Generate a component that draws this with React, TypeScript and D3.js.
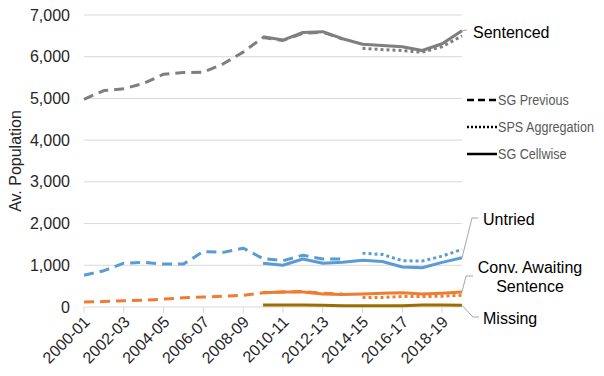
import React from "react";
import * as d3 from "d3";

const categories = [
  "2000-01","2001-02","2002-03","2003-04","2004-05","2005-06","2006-07","2007-08","2008-09","2009-10",
  "2010-11","2011-12","2012-13","2013-14","2014-15","2015-16","2016-17","2017-18","2018-19","2019-20",
];
const yTicks = [0, 1000, 2000, 3000, 4000, 5000, 6000, 7000];
const N = null;

const sentencedPrev = [4980,5190,5230,5360,5580,5620,5630,5830,6110,6460,6390,6560,6590,6420,N,N,N,N,N,N];
const sentencedSPS = [N,N,N,N,N,N,N,N,N,N,N,N,N,N,6200,6170,6150,6110,6240,6500];
const sentencedCell = [N,N,N,N,N,N,N,N,N,6480,6400,6580,6600,6430,6300,6270,6240,6150,6310,6620];

const untriedPrev = [760,870,1050,1070,1030,1030,1330,1310,1410,1160,1110,1240,1150,1150,N,N,N,N,N,N];
const untriedSPS = [N,N,N,N,N,N,N,N,N,N,N,N,N,N,1290,1260,1110,1100,1220,1380];
const untriedCell = [N,N,N,N,N,N,N,N,N,1050,1000,1150,1050,1070,1120,1090,960,940,1070,1180];

const convPrev = [120,130,150,160,190,220,240,260,280,340,360,370,330,310,N,N,N,N,N,N];
const convSPS = [N,N,N,N,N,N,N,N,N,N,N,N,N,N,230,230,250,250,260,280];
const convCell = [N,N,N,N,N,N,N,N,N,340,360,360,310,300,310,330,340,310,330,360];

const missingCell = [N,N,N,N,N,N,N,N,N,50,50,50,40,30,30,30,30,50,50,40];

const legendLabels = ["SG Previous", "SPS Aggregation", "SG Cellwise"];

const W = 604, H = 376;
const x = d3.scaleLinear().domain([0, categories.length - 1]).range([84, 462]);
const y = d3.scaleLinear().domain([0, 7000]).range([307, 15]);

const GRAY = "#7f7f7f", BLUE = "#5b9bd5", ORANGE = "#ed7d31", GOLD = "#9c6e00";
const DASH = "10,6", DOT = "3,3";

type S = { data: (number | null)[]; color: string; dash?: string };
const series: S[] = [
  { data: sentencedPrev, color: GRAY, dash: DASH },
  { data: untriedPrev, color: BLUE, dash: DASH },
  { data: convPrev, color: ORANGE, dash: DASH },
  { data: sentencedSPS, color: GRAY, dash: DOT },
  { data: untriedSPS, color: BLUE, dash: DOT },
  { data: convSPS, color: ORANGE, dash: DOT },
  { data: sentencedCell, color: GRAY },
  { data: untriedCell, color: BLUE },
  { data: convCell, color: ORANGE },
  { data: missingCell, color: GOLD },
];

const line = d3
  .line<number | null>()
  .defined((d) => d !== null)
  .x((_, i) => x(i))
  .y((d) => y(d as number));

const FONT = "'Liberation Sans', Arial, sans-serif";

const last = (a: (number | null)[]) => a[a.length - 1] as number;

export default function App() {
  const xe = x(categories.length - 1);
  const legendDash = ["7,4", "2,2", undefined];
  return (
    <div style={{ position: "fixed", left: 0, top: 0 }}>
      <svg width={W} height={H} style={{ display: "block", background: "#fff" }}>
        {yTicks.slice(1).map((t) => (
          <line key={t} x1={84} x2={462} y1={y(t)} y2={y(t)} stroke="#d9d9d9" strokeWidth={1} />
        ))}
        <line x1={84} x2={462} y1={y(0)} y2={y(0)} stroke="#d9d9d9" strokeWidth={1} />
        {categories.map((c, i) =>
          i % 2 === 0 ? (
            <line key={c} x1={x(i)} x2={x(i)} y1={y(0)} y2={y(0) + 6} stroke="#d9d9d9" />
          ) : null
        )}
        {yTicks.map((t) => (
          <text key={t} x={70} y={y(t)} textAnchor="end" dominantBaseline="central" fontSize={16} fontFamily={FONT} fill="#262626">
            {d3.format(",")(t)}
          </text>
        ))}
        <text transform={`translate(15,161) rotate(-90)`} textAnchor="middle" dominantBaseline="central" fontSize={16} fontFamily={FONT} fill="#262626">
          Av. Population
        </text>
        {categories.map((c, i) =>
          i % 2 === 0 ? (
            <text key={c} transform={`translate(${x(i) + 3},${y(0) + 12}) rotate(-45)`} textAnchor="end" dominantBaseline="central" fontSize={16} fontFamily={FONT} fill="#262626">
              {c}
            </text>
          ) : null
        )}
        {series.map((s, k) => (
          <path key={k} d={line(s.data) || ""} fill="none" stroke={s.color} strokeWidth={3} strokeDasharray={s.dash} strokeLinejoin="round" />
        ))}
        <g stroke="#a6a6a6" strokeWidth={1} fill="none">
          <polyline points={`${xe},${y(last(sentencedCell))} ${xe + 5},${y(last(sentencedCell)) - 1}`} />
          <polyline points={`${xe},${y(last(untriedCell))} ${xe + 10},218 ${xe + 16},218`} />
          <polyline points={`${xe},${y(last(convCell))} ${xe + 4},276 ${xe + 11},276`} />
          <polyline points={`${xe},${y(last(missingCell))} ${xe + 11},317 ${xe + 17},317`} />
        </g>
        <g fontSize={16} fontFamily={FONT} fill="#000">
          <text x={473} y={32} dominantBaseline="central">Sentenced</text>
          <text x={483} y={219} dominantBaseline="central">Untried</text>
          <text x={530} y={267} textAnchor="middle" dominantBaseline="central">Conv. Awaiting</text>
          <text x={530} y={286} textAnchor="middle" dominantBaseline="central">Sentence</text>
          <text x={483} y={318} dominantBaseline="central">Missing</text>
        </g>
        <g>
          {legendLabels.map((label, k) => {
            const yy = 100 + k * 27;
            return (
              <g key={label}>
                <line x1={467} x2={497} y1={yy} y2={yy} stroke="#000" strokeWidth={2.5} strokeDasharray={legendDash[k]} />
                <text transform={`translate(498,${yy}) scale(0.84,1)`} dominantBaseline="central" fontSize={15} fontFamily={FONT} fill="#595959">
                  {label}
                </text>
              </g>
            );
          })}
        </g>
      </svg>
    </div>
  );
}
